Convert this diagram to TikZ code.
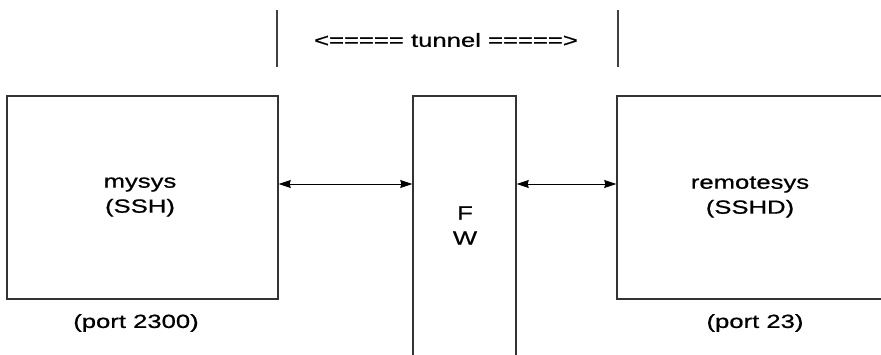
\documentclass[tikz,border=0pt]{standalone}
\usepackage{fontspec}
\setmainfont{Liberation Sans}
\newfontfamily\widesans[FakeStretch=1.35,FakeBold=0.7]{Liberation Sans}
\usetikzlibrary{arrows.meta}
\tikzset{
  box/.style={draw=black!80, line width=1.4pt, minimum width=#1, inner sep=0pt},
  lbl/.style={font=\widesans\fontsize{19}{25}\selectfont, align=center, inner sep=0pt, text=black},
  link/.style={draw=black, line width=1pt, {Stealth[length=12pt,width=8pt,inset=1pt]}-{Stealth[length=12pt,width=8pt,inset=1pt]}},
  sep/.style={draw=black!75, line width=1.3pt}
}
\begin{document}
\begin{tikzpicture}[x=1pt,y=1pt]
\useasboundingbox (0,0) rectangle (881,354);
\clip (0,0) rectangle (881,354);
\fill[white] (0,0) rectangle (881,354);
% boxes
\node[box=271pt, minimum height=203pt] (my) at (142.5,156.5) {};
\node[box=103pt, minimum height=270pt] (fw) at (464.5,123) {};
\node[box=273pt, minimum height=203pt] (rs) at (753.5,156.5) {};
% texts
\node[lbl] (myt) at (140,157) {mysys\\(SSH)};
\node[lbl] (fwt) at (465,128.5) {F\\W};
\node[lbl] (rst) at (750,157) {remotesys\\(SSHD)};
\node[lbl] (p1) at (136,31) {(port 2300)};
\node[lbl] (p2) at (755,31) {(port 23)};
\node[lbl] (tun) at (446,314) {<===== tunnel =====>};
% tunnel markers
\coordinate (t1a) at (277,344);
\coordinate (t1b) at (277,287);
\coordinate (t2a) at (618,344);
\coordinate (t2b) at (618,287);
\draw[sep] (t1a) -- (t1b);
\draw[sep] (t2a) -- (t2b);
% arrows
\coordinate (ay) at (0,170);
\draw[link] (my.east |- ay) -- (fw.west |- ay);
\draw[link] (fw.east |- ay) -- (rs.west |- ay);
\end{tikzpicture}
\end{document}
